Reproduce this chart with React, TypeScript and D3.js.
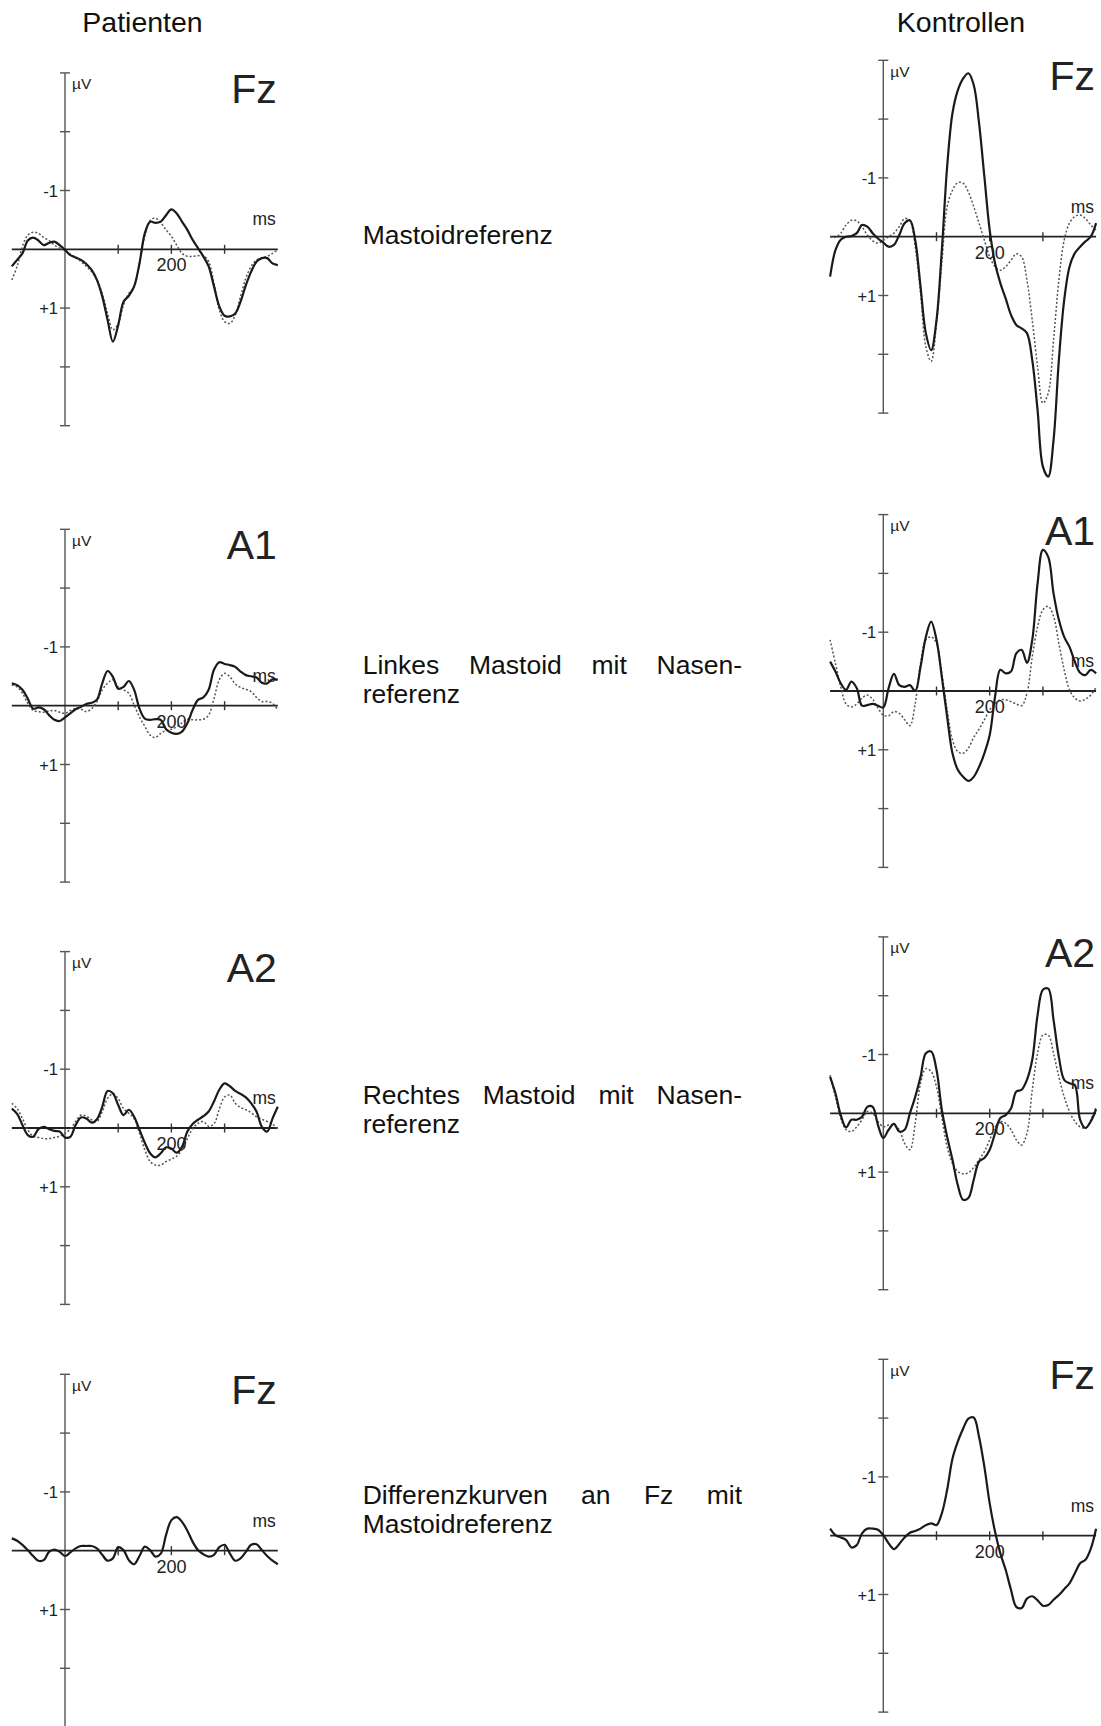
import { useRef, useEffect } from 'react'
import * as d3 from 'd3'

// sample grid, ms after stimulus
const timesMs = d3.range(-100, 401, 10)

// grand averages in µV (negative drawn upwards)
const patFzSolid = [0.29, 0.18, 0.07, -0.15, -0.2, -0.15, -0.07, -0.11, -0.13, -0.07, 0.01, 0.1, 0.14, 0.18, 0.25, 0.35, 0.52, 0.8, 1.2, 1.57, 1.29, 0.89, 0.79, 0.63, 0.24, -0.27, -0.47, -0.45, -0.47, -0.58, -0.68, -0.61, -0.47, -0.33, -0.16, -0.02, 0.12, 0.29, 0.63, 0.97, 1.13, 1.14, 1.09, 0.89, 0.61, 0.38, 0.21, 0.15, 0.15, 0.24, 0.27]
const patFzDotted = [0.52, 0.29, -0.05, -0.24, -0.29, -0.27, -0.2, -0.15, -0.07, -0.02, 0.02, 0.08, 0.14, 0.21, 0.29, 0.38, 0.52, 0.75, 1.09, 1.37, 1.26, 0.95, 0.75, 0.63, 0.24, -0.22, -0.49, -0.53, -0.45, -0.33, -0.22, -0.07, 0.07, 0.12, 0.12, 0.11, 0.11, 0.21, 0.58, 1.03, 1.23, 1.26, 1.12, 0.8, 0.49, 0.29, 0.18, 0.15, 0.12, 0.07, 0.01]

const konFzSolid = [0.68, 0.23, 0.05, 0, -0.01, -0.06, -0.2, -0.17, -0.06, 0.03, 0.1, 0.17, 0.14, -0.03, -0.23, -0.28, 0.06, 0.85, 1.64, 1.93, 1.42, 0.23, -1.19, -2.1, -2.49, -2.69, -2.78, -2.58, -1.93, -1.02, -0.11, 0.45, 0.79, 1.05, 1.33, 1.5, 1.56, 1.64, 2.1, 2.95, 3.91, 4.08, 3.46, 2.1, 1.08, 0.51, 0.28, 0.17, 0.08, 0, -0.23]
const konFzDotted = [0.0, 0.01, -0.06, -0.2, -0.28, -0.27, -0.17, -0.03, 0.07, 0.11, 0.06, 0, -0.06, -0.17, -0.31, -0.27, 0.17, 0.96, 1.87, 2.12, 1.47, 0.45, -0.51, -0.79, -0.92, -0.91, -0.76, -0.51, -0.23, 0.06, 0.34, 0.51, 0.57, 0.51, 0.4, 0.29, 0.34, 0.74, 1.42, 2.21, 2.83, 2.66, 1.76, 0.74, 0.06, -0.23, -0.34, -0.37, -0.31, -0.2, -0.11]

const patA1Solid = [-0.38, -0.35, -0.27, -0.12, 0.05, 0.03, 0.06, 0.16, 0.24, 0.26, 0.2, 0.13, 0.06, 0.02, -0.03, -0.05, -0.1, -0.38, -0.59, -0.49, -0.29, -0.32, -0.42, -0.27, 0.05, 0.22, 0.24, 0.23, 0.24, 0.4, 0.46, 0.48, 0.44, 0.3, 0.07, -0.1, -0.14, -0.27, -0.61, -0.74, -0.71, -0.69, -0.66, -0.58, -0.52, -0.5, -0.48, -0.39, -0.38, -0.45, -0.44]
const patA1Dotted = [-0.35, -0.32, -0.21, -0.04, 0.08, 0.1, 0.11, 0.09, 0.08, 0.11, 0.13, 0.08, 0.05, 0.06, 0.1, 0.05, -0.07, -0.27, -0.38, -0.44, -0.32, -0.27, -0.21, -0.01, 0.19, 0.35, 0.5, 0.54, 0.47, 0.42, 0.4, 0.36, 0.29, 0.23, 0.24, 0.24, 0.23, 0.16, -0.12, -0.44, -0.55, -0.49, -0.37, -0.31, -0.28, -0.24, -0.14, -0.07, -0.07, -0.04, 0.07]

const konA1Solid = [-0.5, -0.33, -0.13, -0.02, -0.16, -0.05, 0.25, 0.24, 0.22, 0.25, 0.28, -0.05, -0.29, -0.1, -0.07, -0.1, 0, -0.41, -0.92, -1.18, -0.87, -0.24, 0.44, 1.06, 1.34, 1.46, 1.53, 1.46, 1.29, 1.06, 0.75, 0.1, -0.36, -0.3, -0.33, -0.64, -0.7, -0.48, -0.87, -1.83, -2.4, -2.28, -1.66, -1.21, -0.92, -0.75, -0.5, -0.31, -0.27, -0.36, -0.3]
const konA1Dotted = [-0.87, -0.47, -0.07, 0.22, 0.27, 0.22, 0.12, 0.07, 0.14, 0.29, 0.41, 0.42, 0.35, 0.38, 0.49, 0.59, 0.21, -0.47, -0.87, -0.92, -0.81, -0.3, 0.32, 0.83, 1.03, 1.06, 0.97, 0.79, 0.65, 0.49, 0.32, 0.21, 0.15, 0.15, 0.18, 0.22, 0.25, 0.04, -0.58, -1.09, -1.38, -1.44, -1.27, -0.81, -0.36, -0.02, 0.12, 0.17, 0.14, 0.07, -0.06]

const patA2Solid = [-0.33, -0.24, -0.05, 0.12, 0.15, 0.02, -0.02, 0.02, 0.05, 0.06, 0.16, 0.15, -0.05, -0.18, -0.16, -0.09, -0.15, -0.36, -0.63, -0.59, -0.39, -0.22, -0.31, -0.19, 0.03, 0.25, 0.43, 0.5, 0.43, 0.33, 0.35, 0.42, 0.32, 0.06, -0.07, -0.14, -0.2, -0.28, -0.45, -0.65, -0.76, -0.71, -0.63, -0.58, -0.52, -0.42, -0.28, -0.02, 0.06, -0.16, -0.36]
const patA2Dotted = [-0.42, -0.33, -0.16, 0.03, 0.14, 0.16, 0.18, 0.18, 0.16, 0.14, 0.09, 0.02, -0.11, -0.22, -0.2, -0.14, -0.11, -0.28, -0.5, -0.58, -0.5, -0.33, -0.25, -0.16, 0.09, 0.37, 0.57, 0.63, 0.63, 0.57, 0.53, 0.48, 0.37, 0.18, 0.01, -0.08, -0.11, -0.03, -0.07, -0.32, -0.53, -0.56, -0.42, -0.35, -0.31, -0.26, -0.19, -0.15, -0.11, -0.07, 0.03]

const konA2Solid = [-0.62, -0.34, 0.03, 0.24, 0.11, 0.11, 0.06, -0.11, -0.11, 0.2, 0.42, 0.28, 0.18, 0.31, 0.28, 0, -0.28, -0.62, -1.02, -1.05, -0.74, -0.06, 0.4, 0.79, 1.22, 1.47, 1.44, 1.13, 0.82, 0.76, 0.62, 0.34, 0.08, 0.03, -0.08, -0.37, -0.4, -0.57, -0.91, -1.67, -2.1, -2.12, -1.59, -0.96, -0.57, -0.51, -0.48, 0.11, 0.25, 0.14, -0.07]
const konA2Dotted = [-0.65, -0.28, 0.08, 0.28, 0.31, 0.23, 0.11, -0.03, 0, 0.14, 0.23, 0.2, 0.2, 0.28, 0.51, 0.62, 0.17, -0.51, -0.76, -0.71, -0.45, 0.06, 0.57, 0.85, 0.99, 1.03, 1.01, 0.92, 0.79, 0.65, 0.45, 0.25, 0.14, 0.17, 0.28, 0.45, 0.54, 0.34, -0.4, -1.02, -1.33, -1.33, -1.02, -0.62, -0.28, -0.03, 0.14, 0.23, 0.25, 0.11, -0.11]

const patDiff = [-0.21, -0.17, -0.1, -0.01, 0.09, 0.17, 0.16, 0.02, -0.02, 0.02, 0.09, 0.03, -0.04, -0.08, -0.08, -0.08, -0.04, 0.07, 0.17, 0.13, -0.06, -0.01, 0.16, 0.23, 0.09, -0.07, -0.01, 0.1, 0.05, -0.27, -0.52, -0.57, -0.49, -0.34, -0.15, -0.01, 0.06, 0.1, 0.07, -0.06, -0.1, 0.05, 0.17, 0.13, 0.02, -0.1, -0.11, -0.01, 0.09, 0.17, 0.23]
const konDiff = [-0.12, -0.01, 0.03, 0.07, 0.2, 0.16, -0.04, -0.12, -0.12, -0.1, -0.01, 0.13, 0.23, 0.14, 0.03, -0.05, -0.08, -0.12, -0.18, -0.21, -0.18, -0.38, -0.78, -1.31, -1.6, -1.82, -1.99, -2.01, -1.68, -1.17, -0.55, -0.07, 0.3, 0.58, 0.92, 1.21, 1.23, 1.07, 1.03, 1.1, 1.19, 1.18, 1.09, 1.01, 0.91, 0.81, 0.64, 0.47, 0.41, 0.22, -0.12]

const yTicks = [-3, -2, -1, 0, 1, 2, 3]
const yTickLabels = [{ v: -1, text: '-1' }, { v: 1, text: '+1' }]
const xTicks = [100, 200, 300]
const xTickLabel = 200

const groupTitles = ['Patienten', 'Kontrollen']
const captions = [
  ['Mastoidreferenz'],
  ['Linkes Mastoid mit Nasen-', 'referenz'],
  ['Rechtes Mastoid mit Nasen-', 'referenz'],
  ['Differenzkurven an Fz mit', 'Mastoidreferenz']
]

const panels = [
  { label: 'Fz', solid: patFzSolid, dotted: patFzDotted, axisX: 65, zeroY: 249.3 },
  { label: 'Fz', solid: konFzSolid, dotted: konFzDotted, axisX: 883.3, zeroY: 236.7 },
  { label: 'A1', solid: patA1Solid, dotted: patA1Dotted, axisX: 65, zeroY: 705.7 },
  { label: 'A1', solid: konA1Solid, dotted: konA1Dotted, axisX: 883.3, zeroY: 691 },
  { label: 'A2', solid: patA2Solid, dotted: patA2Dotted, axisX: 65, zeroY: 1128 },
  { label: 'A2', solid: konA2Solid, dotted: konA2Dotted, axisX: 883.3, zeroY: 1113.3 },
  { label: 'Fz', solid: patDiff, dotted: null, axisX: 65, zeroY: 1550.7 },
  { label: 'Fz', solid: konDiff, dotted: null, axisX: 883.3, zeroY: 1535.7 }
]

const captionBaselines = [244.3, 674.3, 1104.3, 1504.3]

const W = 1101
const H = 1726
const FONT = '"Liberation Sans", Arial, Helvetica, sans-serif'
const PX_PER_100MS = 53.2
const PX_PER_UV = 58.8

export default function App() {
  const svgRef = useRef<SVGSVGElement>(null)

  useEffect(() => {
    if (!svgRef.current) return
    const svg = d3.select(svgRef.current)
    svg.selectAll('*').remove()

    svg.append('rect').attr('width', W).attr('height', H).attr('fill', '#fff')

    // column headers
    svg.selectAll('.title')
      .data(groupTitles)
      .enter()
      .append('text')
      .attr('class', 'title')
      .attr('x', (d, i) => (i === 0 ? 142.5 : 961))
      .attr('y', 32.3)
      .attr('text-anchor', 'middle')
      .style('font-family', FONT)
      .style('font-size', '28.5px')
      .style('fill', '#111')
      .text(d => d)

    panels.forEach(p => {
      const x = d3.scaleLinear()
        .domain([-100, 400])
        .range([p.axisX - PX_PER_100MS, p.axisX + 4 * PX_PER_100MS])
      const y = d3.scaleLinear()
        .domain([-3, 3])
        .range([p.zeroY - 3 * PX_PER_UV, p.zeroY + 3 * PX_PER_UV])

      const g = svg.append('g')

      // vertical µV axis
      g.append('line')
        .attr('x1', x(0)).attr('x2', x(0))
        .attr('y1', y(-3)).attr('y2', y(3))
        .style('stroke', '#555').style('stroke-width', 1.4)

      g.selectAll('.ytick')
        .data(yTicks.filter(v => v !== 0))
        .enter()
        .append('line')
        .attr('x1', x(0) - 5).attr('x2', x(0) + 5)
        .attr('y1', d => y(d)).attr('y2', d => y(d))
        .style('stroke', '#555').style('stroke-width', 1.4)

      g.selectAll('.ylab')
        .data(yTickLabels)
        .enter()
        .append('text')
        .attr('x', x(0) - 7)
        .attr('y', d => y(d.v) + 6)
        .attr('text-anchor', 'end')
        .style('font-family', FONT).style('font-size', '16.5px').style('fill', '#222')
        .text(d => d.text)

      // horizontal time axis
      g.append('line')
        .attr('x1', x(-100)).attr('x2', x(400))
        .attr('y1', y(0)).attr('y2', y(0))
        .style('stroke', '#222').style('stroke-width', 1.8)

      g.selectAll('.xtick')
        .data(xTicks)
        .enter()
        .append('line')
        .attr('x1', d => x(d)).attr('x2', d => x(d))
        .attr('y1', y(0) - 4.5).attr('y2', y(0) + 4.5)
        .style('stroke', '#333').style('stroke-width', 1.4)

      const line = d3.line<number>()
        .x((d, i) => x(timesMs[i]))
        .y(d => y(d))
        .curve(d3.curveCatmullRom.alpha(0.5))

      if (p.dotted) {
        g.append('path')
          .datum(p.dotted)
          .attr('d', line)
          .style('fill', 'none')
          .style('stroke', '#555')
          .style('stroke-width', 1.5)
          .style('stroke-dasharray', '2,2')
      }

      g.append('path')
        .datum(p.solid)
        .attr('d', line)
        .style('fill', 'none')
        .style('stroke', '#1a1a1a')
        .style('stroke-width', 2.2)
        .style('stroke-linejoin', 'round')

      // labels
      g.append('text')
        .attr('x', x(0) + 7).attr('y', y(-3) + 16.5)
        .style('font-family', FONT).style('font-size', '15.5px').style('fill', '#222')
        .text('µV')

      g.append('text')
        .attr('x', x(400) - 1).attr('y', y(-3) + 30)
        .attr('text-anchor', 'end')
        .style('font-family', FONT).style('font-size', '41px').style('fill', '#222')
        .text(p.label)

      g.append('text')
        .attr('x', x(400) - 2).attr('y', y(0) - 24)
        .attr('text-anchor', 'end')
        .style('font-family', FONT).style('font-size', '17.5px').style('fill', '#222')
        .text('ms')

      g.append('text')
        .attr('x', x(xTickLabel)).attr('y', y(0) + 22)
        .attr('text-anchor', 'middle')
        .style('font-family', FONT).style('font-size', '18px').style('fill', '#222')
        .text(String(xTickLabel))
    })

    // captions in the middle column, justified like the print
    const left = 362.7
    const right = 742
    captions.forEach((lines, ci) => {
      lines.forEach((ln, li) => {
        const yy = captionBaselines[ci] + li * 29
        const words = ln.split(' ')
        const justify = lines.length > 1 && li < lines.length - 1 && words.length > 1
        const nodes = words.map(w =>
          svg.append('text')
            .attr('y', yy)
            .style('font-family', FONT).style('font-size', '26.5px').style('fill', '#111')
            .text(w)
        )
        const widths = nodes.map(n => (n.node() as SVGTextElement).getComputedTextLength())
        const gap = justify ? (right - left - d3.sum(widths)) / (words.length - 1) : 7.4
        let xx = left
        nodes.forEach((n, i) => {
          n.attr('x', xx)
          xx += widths[i] + gap
        })
      })
    })
  }, [])

  return (
    <svg
      ref={svgRef}
      width={W}
      height={H}
      style={{ position: 'absolute', left: 0, top: 0, display: 'block' }}
    />
  )
}
